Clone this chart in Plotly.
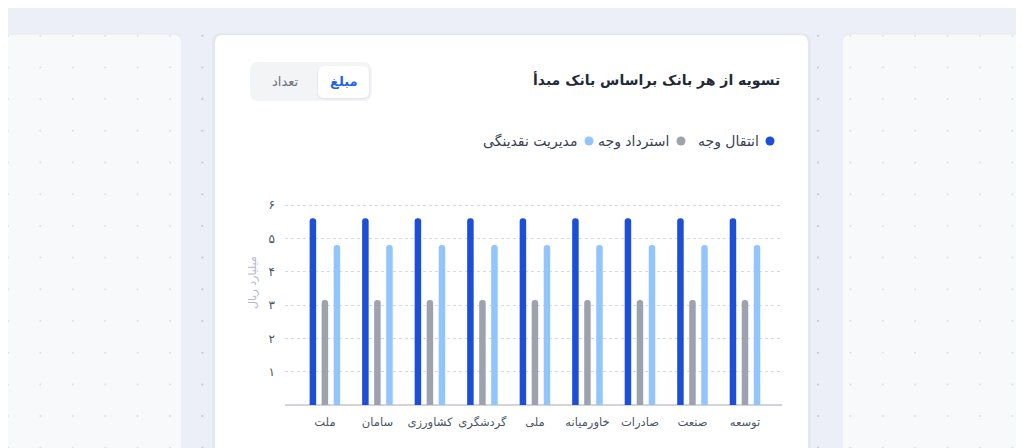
import plotly.graph_objects as go

# ---------------- data ----------------
banks = ["توسعه", "صنعت", "صادرات", "خاورمیانه", "ملی", "گردشگری", "کشاورزی", "سامان", "ملت"]
transfer = [5.6, 5.6, 5.6, 5.6, 5.6, 5.6, 5.6, 5.6, 5.6]          # انتقال وجه
refund = [3.15, 3.15, 3.15, 3.15, 3.15, 3.15, 3.15, 3.15, 3.15]    # استرداد وجه
liquidity = [4.8, 4.8, 4.8, 4.8, 4.8, 4.8, 4.8, 4.8, 4.8]          # مدیریت نقدینگی
series_names = ["انتقال وجه", "استرداد وجه", "مدیریت نقدینگی"]
y_tickvals = [1, 2, 3, 4, 5, 6]
y_ticktext = ["۱", "۲", "۳", "۴", "۵", "۶"]
title_text = "تسویه از هر بانک براساس بانک مبدأ"
toggle_labels = ["مبلغ", "تعداد"]
y_title = "میلیارد ریال"

W, H = 1024, 448
OFF = 8  # page body margin: the figure is drawn starting at (8, 8)
FONT = "DejaVu Sans, sans-serif"
colors = ["#1d4ed8", "#9ca3af", "#93c5fd"]


def px(x):
    return (x - OFF) / W


def py(y):
    return 1 - (y - OFF) / H


def rrect(x0, y0, x1, y1, r, tl=True, tr=True, br=True, bl=True):
    def P(x, y):
        return f"{px(x):.5f},{py(y):.5f}"
    rtl = r if tl else 0
    rtr = r if tr else 0
    rbr = r if br else 0
    rbl = r if bl else 0
    d = f"M {P(x0 + rtl, y0)} L {P(x1 - rtr, y0)} "
    d += f"Q {P(x1, y0)} {P(x1, y0 + rtr)} " if rtr else ""
    d += f"L {P(x1, y1 - rbr)} "
    d += f"Q {P(x1, y1)} {P(x1 - rbr, y1)} " if rbr else ""
    d += f"L {P(x0 + rbl, y1)} "
    d += f"Q {P(x0, y1)} {P(x0, y1 - rbl)} " if rbl else ""
    d += f"L {P(x0, y0 + rtl)} "
    d += f"Q {P(x0, y0)} {P(x0 + rtl, y0)} " if rtl else ""
    d += "Z"
    return d


shapes = []


def add_path(d, fill, line="rgba(0,0,0,0)", lw=0):
    shapes.append(dict(type="path", xref="paper", yref="paper", path=d,
                       fillcolor=fill, line=dict(color=line, width=lw), layer="below"))


# page background
shapes.append(dict(type="rect", xref="paper", yref="paper", x0=0, x1=1, y0=0, y1=1,
                   fillcolor="#eceff7", line=dict(width=0), layer="below"))
# side panels
add_path(rrect(-10, 34, 182, 480, 9, tl=False, br=False, bl=False), "#f8f9fb", "#e6e9ef", 1)
add_path(rrect(842, 34, 1060, 480, 9, tr=False, br=False, bl=False), "#f8f9fb", "#e6e9ef", 1)

# dots grid
card = (215, 35, 808, 470)
for i in range(33):
    x = 8 + 32.4 * i
    if x < OFF:
        continue
    for j in range(15):
        y = 4 + 31.7 * j
        if y < OFF:
            continue
        if card[0] - 3 < x < card[2] + 3 and y > card[1] - 3:
            continue
        on_panel = (x < 182 or x > 842) and y > 34
        c = "#dcdfe6" if on_panel else "#bcc3cf"
        shapes.append(dict(type="circle", xref="paper", yref="paper",
                           x0=px(x - 1), x1=px(x + 1), y0=py(y + 1), y1=py(y - 1),
                           fillcolor=c, line=dict(width=0), layer="below"))

# card shadow + card
add_path(rrect(212, 33, 811, 480, 10), "#e3e7ef")
add_path(rrect(215, 35, 808, 480, 8), "#ffffff")

# toggle
add_path(rrect(250, 62, 372, 101, 9), "#f3f4f6")
add_path(rrect(317, 66, 370, 99.5, 7), "#e5e7eb")
add_path(rrect(318, 66, 369, 98, 6), "#ffffff")

# legend dots (custom RTL legend)
legend_dot_x = [770, 681, 589]
legend_text_right = [761, 671, 579]
legend_y = 141
for c, dx in zip(colors, legend_dot_x):
    shapes.append(dict(type="circle", xref="paper", yref="paper",
                       x0=px(dx - 4.5), x1=px(dx + 4.5), y0=py(legend_y + 4.5), y1=py(legend_y - 4.5),
                       fillcolor=c, line=dict(width=0), layer="above"))

annotations = [
    dict(text=f"<b>{title_text}</b>", x=px(782), y=py(80), xref="paper", yref="paper",
         xanchor="right", yanchor="middle", showarrow=False,
         font=dict(family=FONT, size=14, color="#1f2937")),
    dict(text=f"<b>{toggle_labels[0]}</b>", x=px(343.5), y=py(81), xref="paper", yref="paper",
         xanchor="center", yanchor="middle", showarrow=False,
         font=dict(family=FONT, size=13, color="#2563eb")),
    dict(text=toggle_labels[1], x=px(285), y=py(81), xref="paper", yref="paper",
         xanchor="center", yanchor="middle", showarrow=False,
         font=dict(family=FONT, size=13, color="#6b7280")),
    dict(text=y_title, x=px(252), y=py(283), xref="paper", yref="paper", textangle=-90,
         xanchor="center", yanchor="middle", showarrow=False,
         font=dict(family=FONT, size=11, color="#b4b9c3")),
]
for name, tx in zip(series_names, legend_text_right):
    annotations.append(dict(text=name, x=px(tx), y=py(legend_y), xref="paper", yref="paper",
                            xanchor="right", yanchor="middle", showarrow=False,
                            font=dict(family=FONT, size=14, color="#374151")))

fig = go.Figure()
bar_w = 0.124
offsets = [0.167, -0.062, -0.291]
for vals, name, c, off in zip([transfer, refund, liquidity], series_names, colors, offsets):
    fig.add_trace(go.Bar(x=banks, y=vals, name=name,
                         marker=dict(color=c, cornerradius=3, line=dict(width=0)),
                         width=bar_w, offset=off, showlegend=False))

fig.update_layout(
    width=W, height=H, margin=dict(l=0, r=0, t=0, b=0),
    paper_bgcolor="#eceff7", plot_bgcolor="rgba(0,0,0,0)",
    barmode="overlay", showlegend=False,
    shapes=shapes, annotations=annotations,
    font=dict(family=FONT),
    xaxis=dict(domain=[px(285), px(782)], type="category", categoryorder="array", categoryarray=banks,
               range=[8.76, -0.705], showgrid=False, showline=False, zeroline=False,
               ticks="", tickangle=0, tickfont=dict(family=FONT, size=11.5, color="#4b5563"),
               ticklabelstandoff=8),
    yaxis=dict(domain=[py(405), py(195)], range=[0, 6.3], tickvals=y_tickvals, ticktext=y_ticktext,
               showgrid=True, gridcolor="#d6d9df", griddash="dot", gridwidth=1,
               zeroline=True, zerolinecolor="#d1d5db", zerolinewidth=1.5,
               showline=False, ticks="", ticklabelstandoff=9,
               tickfont=dict(family=FONT, size=12, color="#4b5563")),
)

fig.write_html("out.html")
